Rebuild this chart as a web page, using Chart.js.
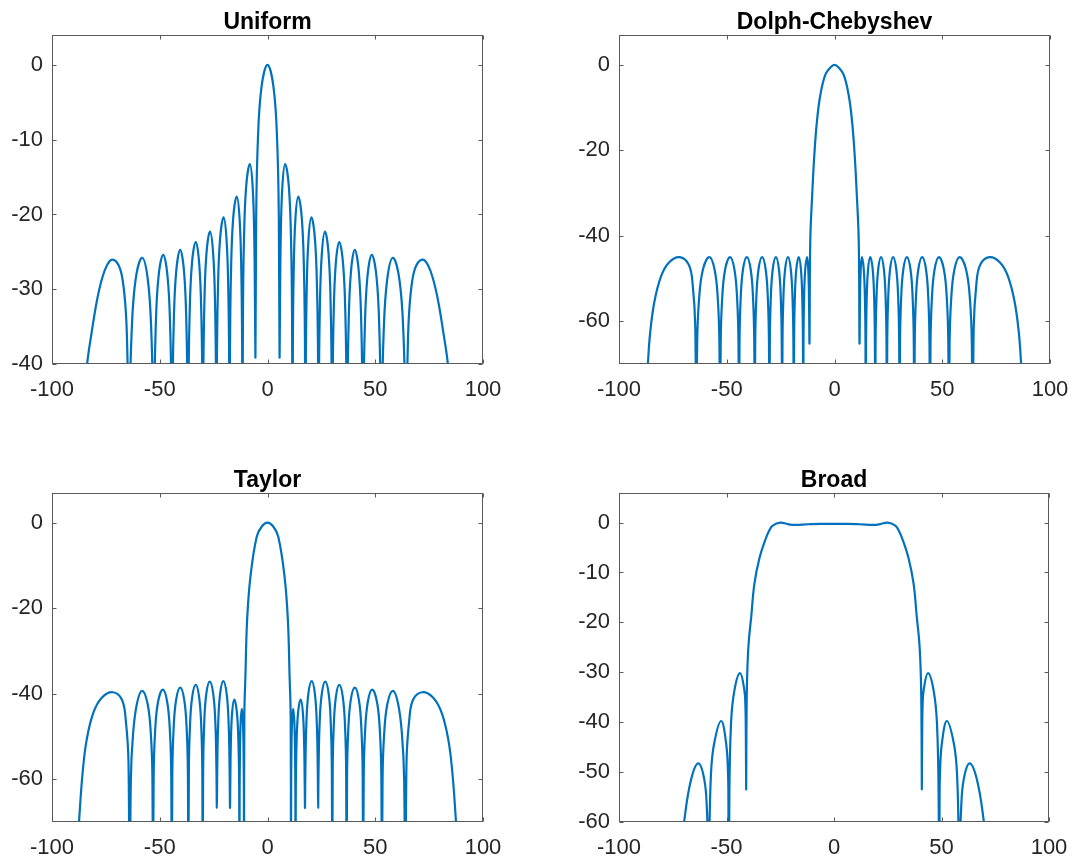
<!DOCTYPE html>
<html>
<head>
<meta charset="utf-8">
<script src="https://cdn.jsdelivr.net/npm/chart.js@4.4.1/dist/chart.umd.min.js"></script>
<style>
  body { margin:0; background:#fff; width:1075px; height:860px; position:relative; overflow:hidden; }
  canvas { position:absolute; }
</style>
</head>
<body>
<canvas id="uniform" width="537" height="430" style="left:0;top:0"></canvas>
<canvas id="cheb" width="548" height="430" style="left:537px;top:0"></canvas>
<canvas id="taylor" width="537" height="430" style="left:0;top:430px"></canvas>
<canvas id="broad" width="548" height="430" style="left:537px;top:430px"></canvas>
<script>
// angle (deg) and gain (dB)
const titles = ['Uniform', 'Dolph-Chebyshev', 'Taylor', 'Broad'];
const xTicks = [-100, -50, 0, 50, 100];
const uniformTicks = [-40, -30, -20, -10, 0];
const chebTicks = [-60, -40, -20, 0];
const taylorTicks = [-60, -40, -20, 0];
const broadTicks = [-60, -50, -40, -30, -20, -10, 0];

const uniformAngle = [
  -86, -83.7, -81.5, -79.2, -76.8, -74.3, -71.9, -69.1, -67.2, -65.7, -65.0, -64.6, -64.3,
  -63.93, -63.08, -61.25, -58.2, -55.5, -53.88, -53.12, -52.8,
  -52.54, -51.92, -50.6, -48.4, -46.35, -45.12, -44.55, -44.3,
  -44.07, -43.54, -42.4, -40.5, -38.7, -37.62, -37.12, -36.9,
  -36.68, -36.18, -35.1, -33.3, -31.65, -30.66, -30.2, -30.0,
  -29.8, -29.34, -28.35, -26.7, -25.2, -24.3, -23.88, -23.7,
  -23.5, -23.04, -22.05, -20.4, -19.0, -18.16, -17.77, -17.6,
  -17.4, -16.94, -15.95, -14.3, -12.95, -12.14, -11.76, -11.6,
  -11.4, -10.92, -9.9, -8.2, -6.9, -6.12, -5.76, -5.6,
  -5.26, -4.48, -2.8, 0, 2.8, 4.48, 5.26, 5.6,
  5.76, 6.12, 6.9, 8.2, 9.9, 10.92, 11.4, 11.6,
  11.76, 12.14, 12.95, 14.3, 15.95, 16.94, 17.4, 17.6,
  17.77, 18.16, 19.0, 20.4, 22.05, 23.04, 23.5, 23.7,
  23.88, 24.3, 25.2, 26.7, 28.35, 29.34, 29.8, 30.0,
  30.2, 30.66, 31.65, 33.3, 35.1, 36.18, 36.68, 36.9,
  37.12, 37.62, 38.7, 40.5, 42.4, 43.54, 44.07, 44.3,
  44.55, 45.12, 46.35, 48.4, 50.6, 51.92, 52.54, 52.8,
  53.12, 53.88, 55.5, 58.2, 61.25, 63.08, 63.93, 64.3,
  64.6, 65.0, 65.7, 67.2, 69.1, 71.9, 74.3, 76.8, 79.2, 81.5, 83.7, 86
];
const uniformGain = [
  -48, -40, -35.6, -31.6, -28.6, -26.7, -26.05, -26.8, -28.8, -33.2, -39, -46, -60,
  -46.3, -36.0, -28.8, -25.8, -28.8, -36.0, -46.3, -60,
  -45.9, -35.6, -28.4, -25.4, -28.4, -35.6, -45.9, -60,
  -45.25, -34.95, -27.75, -24.75, -27.75, -34.95, -45.25, -60,
  -44.2, -33.9, -26.7, -23.7, -26.7, -33.9, -44.2, -60,
  -42.8, -32.5, -25.3, -22.3, -25.3, -32.5, -42.8, -60,
  -40.9, -30.6, -23.4, -20.4, -23.4, -30.6, -40.9, -60,
  -38.1, -27.8, -20.6, -17.6, -20.6, -27.8, -38.1, -60,
  -33.75, -23.45, -16.25, -13.25, -16.25, -23.45, -33.75, -39,
  -20.5, -10.2, -3, 0, -3, -10.2, -20.5, -39,
  -33.75, -23.45, -16.25, -13.25, -16.25, -23.45, -33.75, -60,
  -38.1, -27.8, -20.6, -17.6, -20.6, -27.8, -38.1, -60,
  -40.9, -30.6, -23.4, -20.4, -23.4, -30.6, -40.9, -60,
  -42.8, -32.5, -25.3, -22.3, -25.3, -32.5, -42.8, -60,
  -44.2, -33.9, -26.7, -23.7, -26.7, -33.9, -44.2, -60,
  -45.25, -34.95, -27.75, -24.75, -27.75, -34.95, -45.25, -60,
  -45.9, -35.6, -28.4, -25.4, -28.4, -35.6, -45.9, -60,
  -46.3, -36.0, -28.8, -25.8, -28.8, -36.0, -46.3, -60,
  -46, -39, -33.2, -28.8, -26.8, -26.05, -26.7, -28.6, -31.6, -35.6, -40, -48
];

const chebAngle = [
  -87.6, -86.6, -85.6, -83.6, -80.5, -76.9, -71.9, -67.6, -65.8, -64.6, -64.1,
  -63.74, -62.9, -61.1, -58.1, -55.6, -54.1, -53.4, -53.1,
  -52.82, -52.18, -50.8, -48.5, -46.4, -45.14, -44.55, -44.3,
  -44.08, -43.58, -42.5, -40.7, -38.85, -37.74, -37.22, -37.0,
  -36.8, -36.32, -35.3, -33.6, -31.9, -30.88, -30.4, -30.2,
  -30.02, -29.6, -28.7, -27.2, -25.75, -24.88, -24.47, -24.3,
  -24.14, -23.76, -22.95, -21.6, -20.25, -19.44, -19.06, -18.9,
  -18.76, -18.44, -17.75, -16.6, -15.55, -14.92, -14.63, -14.5,
  -14.39, -14.14, -13.6, -12.7, -12.15, -11.82, -11.6,
  -11.25, -10.35, -9.35, -8.15, -6.55, -4.25, -1.9, 0, 1.9, 4.25, 6.55, 8.15, 9.35, 10.35, 11.25, 11.6,
  11.82, 12.15, 12.7, 13.6, 14.14, 14.39, 14.5,
  14.63, 14.92, 15.55, 16.6, 17.75, 18.44, 18.76, 18.9,
  19.06, 19.44, 20.25, 21.6, 22.95, 23.76, 24.14, 24.3,
  24.47, 24.88, 25.75, 27.2, 28.7, 29.6, 30.02, 30.2,
  30.4, 30.88, 31.9, 33.6, 35.3, 36.32, 36.8, 37.0,
  37.22, 37.74, 38.85, 40.7, 42.5, 43.58, 44.08, 44.3,
  44.55, 45.14, 46.4, 48.5, 50.8, 52.18, 52.82, 53.1,
  53.4, 54.1, 55.6, 58.1, 61.1, 62.9, 63.74, 64.1,
  64.6, 65.8, 67.6, 71.9, 76.9, 80.5, 83.6, 85.6, 86.6, 87.6
];
const chebGain = [
  -78, -70, -63, -55.5, -49.5, -46.3, -45, -46.8, -51.5, -61.5, -100,
  -65.5, -55.2, -48, -45, -48, -55.2, -65.5, -100,
  -65.5, -55.2, -48, -45, -48, -55.2, -65.5, -100,
  -65.5, -55.2, -48, -45, -48, -55.2, -65.5, -100,
  -65.5, -55.2, -48, -45, -48, -55.2, -65.5, -100,
  -65.5, -55.2, -48, -45, -48, -55.2, -65.5, -100,
  -65.5, -55.2, -48, -45, -48, -55.2, -65.5, -100,
  -65.5, -55.2, -48, -45, -48, -55.2, -65.5, -100,
  -65.5, -55.2, -48, -45, -48, -55.2, -65,
  -41.3, -30.4, -21, -13.2, -7, -2.3, -0.6, 0, -0.6, -2.3, -7, -13.2, -21, -30.4, -41.3, -65,
  -55.2, -48, -45, -48, -55.2, -65.5, -100,
  -65.5, -55.2, -48, -45, -48, -55.2, -65.5, -100,
  -65.5, -55.2, -48, -45, -48, -55.2, -65.5, -100,
  -65.5, -55.2, -48, -45, -48, -55.2, -65.5, -100,
  -65.5, -55.2, -48, -45, -48, -55.2, -65.5, -100,
  -65.5, -55.2, -48, -45, -48, -55.2, -65.5, -100,
  -65.5, -55.2, -48, -45, -48, -55.2, -65.5, -100,
  -65.5, -55.2, -48, -45, -48, -55.2, -65.5, -100,
  -61.5, -51.5, -46.8, -45, -46.3, -49.5, -55.5, -63, -70, -78
];

const taylorAngle = [
  -89, -87.4, -85.8, -83.9, -80.8, -76.9, -71.8, -67.6, -65.8, -64.5, -64.05,
  -63.4, -62.4, -60.6, -58.2, -55.65, -54.12, -53.4, -53.1,
  -52.83, -52.2, -50.85, -48.6, -46.5, -45.24, -44.65, -44.4,
  -44.17, -43.62, -42.45, -40.5, -38.6, -37.46, -36.93, -36.7,
  -36.5, -36.02, -35.0, -33.3, -31.68, -30.7, -30.25, -30.05,
  -29.86, -29.4, -28.43, -26.8, -25.15, -24.16, -23.7, -23.5,
  -23.32, -22.9, -22.0, -20.5, -18.95, -18.02, -17.59, -17.4,
  -17.28, -17.0, -16.4, -15.4, -14.2, -13.48, -13.14, -13.0,
  -12.94, -12.78, -12.45, -11.9, -11.4, -11.1, -10.96, -10.9,
  -10.75, -10.25, -9.45, -7.9, -5.0, -2.5, 0, 2.5, 5.0, 7.9, 9.45, 10.25, 10.75, 10.9,
  10.96, 11.1, 11.4, 11.9, 12.45, 12.78, 12.94, 13.0,
  13.14, 13.48, 14.2, 15.4, 16.4, 17.0, 17.28, 17.4,
  17.59, 18.02, 18.95, 20.5, 22.0, 22.9, 23.32, 23.5,
  23.7, 24.16, 25.15, 26.8, 28.43, 29.4, 29.86, 30.05,
  30.25, 30.7, 31.68, 33.3, 35.0, 36.02, 36.5, 36.7,
  36.93, 37.46, 38.6, 40.5, 42.45, 43.62, 44.17, 44.4,
  44.65, 45.24, 46.5, 48.6, 50.85, 52.2, 52.83, 53.1,
  53.4, 54.12, 55.65, 58.2, 60.6, 62.4, 63.4, 64.05,
  64.5, 65.8, 67.6, 71.8, 76.9, 80.8, 83.9, 85.8, 87.4, 89
];
const taylorGain = [
  -82, -69.5, -58.6, -50.8, -44.5, -41.0, -39.7, -41.4, -46.1, -56.2, -100,
  -59.9, -49.6, -42.4, -39.4, -42.4, -49.6, -59.9, -100,
  -59.6, -49.3, -42.1, -39.1, -42.1, -49.3, -59.6, -100,
  -59.1, -48.8, -41.6, -38.6, -41.6, -48.8, -59.1, -100,
  -58.5, -48.2, -41, -38, -41, -48.2, -58.5, -100,
  -57.7, -47.4, -40.2, -37.2, -40.2, -47.4, -57.7, -66.7,
  -57.6, -47.3, -40.1, -37.1, -40.1, -47.3, -57.6, -66.7,
  -61.9, -51.6, -44.4, -41.4, -44.4, -51.6, -61.9, -100,
  -64.1, -53.8, -46.6, -43.6, -46.6, -53.8, -64.1, -100,
  -45.3, -36, -22.7, -12.6, -3.3, -0.8, 0, -0.8, -3.3, -12.6, -22.7, -36, -45.3, -100,
  -64.1, -53.8, -46.6, -43.6, -46.6, -53.8, -64.1, -100,
  -61.9, -51.6, -44.4, -41.4, -44.4, -51.6, -61.9, -66.7,
  -57.6, -47.3, -40.1, -37.1, -40.1, -47.3, -57.6, -66.7,
  -57.7, -47.4, -40.2, -37.2, -40.2, -47.4, -57.7, -100,
  -58.5, -48.2, -41, -38, -41, -48.2, -58.5, -100,
  -59.1, -48.8, -41.6, -38.6, -41.6, -48.8, -59.1, -100,
  -59.6, -49.3, -42.1, -39.1, -42.1, -49.3, -59.6, -100,
  -59.9, -49.6, -42.4, -39.4, -42.4, -49.6, -59.9, -100,
  -56.2, -46.1, -41.4, -39.7, -41.0, -44.5, -50.8, -58.6, -69.5, -82
];

const broadAngle = [
  -71, -69.7, -66.5, -63.1, -60.3, -59.1, -58.7, -58.4,
  -58.0, -57.2, -55.7, -52.5, -50.2, -49.3, -49.1, -48.9,
  -48.7, -47.9, -46.3, -43.7, -41.7, -41.2, -41.0, -40.85,
  -40.7, -40.4, -39.7, -38.5, -37.0, -34.6, -32, -30, -28.5, -25, -21.5, -18.5, -12, -6,
  0,
  6, 12, 18.5, 21.5, 25, 28.5, 30, 32, 34.6, 37.0, 38.5, 39.7, 40.4, 40.7,
  40.85, 41.0, 41.2, 41.7, 43.7, 46.3, 47.9, 48.7,
  48.9, 49.1, 49.3, 50.2, 52.5, 55.7, 57.2, 58.0,
  58.4, 58.7, 59.1, 60.3, 63.1, 66.5, 69.7, 71
];
const broadGain = [
  -66, -60, -51.6, -48.3, -51.6, -57.7, -65, -100,
  -65, -50.2, -44.2, -39.8, -44.2, -50.2, -57, -100,
  -57, -40.3, -33.6, -30.2, -33.6, -36.9, -43, -53.5,
  -40.2, -30.9, -24.2, -18.9, -12.2, -7, -3.5, -1.5, -0.6, 0, -0.3, -0.45, -0.33, -0.25,
  -0.25,
  -0.25, -0.33, -0.45, -0.3, 0, -0.6, -1.5, -3.5, -7, -12.2, -18.9, -24.2, -30.9, -40.2,
  -53.5, -43, -36.9, -33.6, -30.2, -33.6, -40.3, -57,
  -100, -57, -50.2, -44.2, -39.8, -44.2, -50.2, -65,
  -100, -65, -57.7, -51.6, -48.3, -51.6, -60, -66
];

const tickFont = { family: '"Liberation Sans", Arial, sans-serif', size: 22 };
const tickColor = '#262626';

// MATLAB-style box with inward ticks, plus bold title
const framePlugin = {
  id: 'frame',
  afterDatasetsDraw(chart, args, opts) {
    const { ctx, chartArea: a, scales: { x, y } } = chart;
    const L = Math.round(a.left) + 0.5, R = Math.round(a.right) - 0.5;
    const T = Math.round(a.top) + 0.5, B = Math.round(a.bottom) - 0.5;
    ctx.save();
    ctx.strokeStyle = '#5a5a5a';
    ctx.lineWidth = 1;
    ctx.strokeRect(L, T, R - L, B - T);
    ctx.beginPath();
    x.ticks.forEach(t => {
      const px = Math.round(x.getPixelForValue(t.value)) + 0.5;
      ctx.moveTo(px, B); ctx.lineTo(px, B - 4);
      ctx.moveTo(px, T); ctx.lineTo(px, T + 4);
    });
    y.ticks.forEach(t => {
      const py = Math.round(y.getPixelForValue(t.value)) + 0.5;
      ctx.moveTo(L, py); ctx.lineTo(L + 4, py);
      ctx.moveTo(R, py); ctx.lineTo(R - 4, py);
    });
    ctx.stroke();
    ctx.fillStyle = '#000';
    ctx.font = 'bold 23px "Liberation Sans", Arial, sans-serif';
    ctx.textAlign = 'center';
    ctx.textBaseline = 'alphabetic';
    ctx.fillText(opts.text, (a.left + a.right) / 2, a.top - 6);
    ctx.restore();
  }
};

function makePanel(id, title, angle, gain, yMin, yMax, yTicks, box) {
  new Chart(document.getElementById(id), {
    type: 'line',
    data: {
      datasets: [{
        data: angle.map((v, i) => ({ x: v, y: gain[i] })),
        borderColor: '#0072BD',
        borderWidth: 2.2,
        pointRadius: 0,
        tension: 0.4,
        borderJoinStyle: 'round',
        fill: false,
        clip: 0
      }]
    },
    options: {
      responsive: false,
      animation: false,
      devicePixelRatio: 1,
      layout: { padding: { left: 0, top: box.top, right: box.right, bottom: 0 } },
      plugins: { legend: { display: false }, tooltip: { enabled: false }, frame: { text: title } },
      scales: {
        x: {
          type: 'linear', min: -100, max: 100,
          afterBuildTicks: s => { s.ticks = xTicks.map(v => ({ value: v })); },
          afterFit: s => { s.height = box.xh; },
          grid: { display: false, drawTicks: false },
          border: { display: false },
          ticks: { font: tickFont, color: tickColor, padding: 13, maxRotation: 0, autoSkip: false, callback: v => String(v) }
        },
        y: {
          type: 'linear', min: yMin, max: yMax,
          afterBuildTicks: s => { s.ticks = yTicks.map(v => ({ value: v })); },
          afterFit: s => { s.width = box.yw; },
          grid: { display: false, drawTicks: false },
          border: { display: false },
          ticks: { font: tickFont, color: tickColor, padding: 9, autoSkip: false, callback: v => String(v) }
        }
      }
    },
    plugins: [framePlugin]
  });
}

makePanel('uniform', titles[0], uniformAngle, uniformGain, -40, 4, uniformTicks, { top: 35, right: 54, yw: 52, xh: 66 });
makePanel('cheb', titles[1], chebAngle, chebGain, -70, 7, chebTicks, { top: 35, right: 35, yw: 82, xh: 66 });
makePanel('taylor', titles[2], taylorAngle, taylorGain, -70, 7, taylorTicks, { top: 62.7, right: 54, yw: 52, xh: 38.3 });
makePanel('broad', titles[3], broadAngle, broadGain, -60, 6, broadTicks, { top: 62.7, right: 36, yw: 82, xh: 38.3 });
</script>
</body>
</html>
